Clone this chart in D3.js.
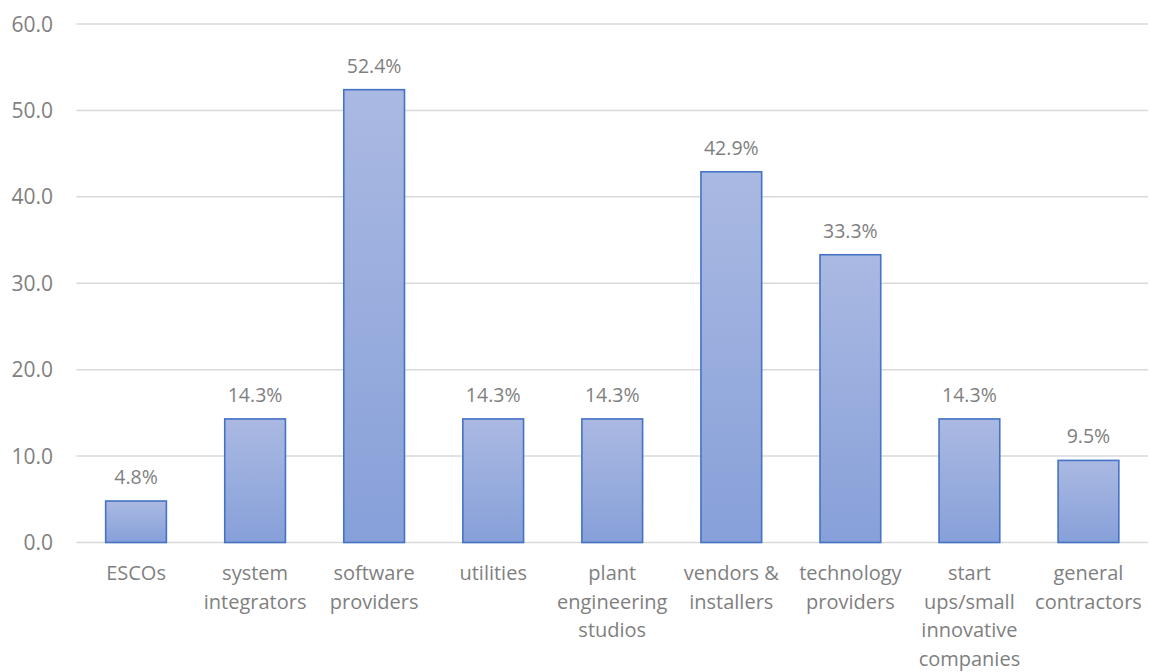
<!DOCTYPE html>
<html><head><meta charset="utf-8">
<script src="https://cdn.jsdelivr.net/npm/d3@7"></script>
<style>body{margin:0;background:#fff}svg{display:block}text{font-family:"Open Sans","Noto Sans",sans-serif;fill:#7f7f7f}</style>
</head><body>
<script>
const categories = [["ESCOs"],["system","integrators"],["software","providers"],["utilities"],["plant","engineering","studios"],["vendors &","installers"],["technology","providers"],["start","ups/small","innovative","companies"],["general","contractors"]];
const values = [4.8,14.3,52.4,14.3,14.3,42.9,33.3,14.3,9.5];
const yTicks = [0,10,20,30,40,50,60];

const W=1150,H=672;
const svg=d3.select("body").append("svg").attr("width",W).attr("height",H);
const defs=svg.append("defs");
const g=defs.append("linearGradient").attr("id","bg").attr("x1",0).attr("y1",0).attr("x2",0).attr("y2",1);
g.append("stop").attr("offset","0%").attr("stop-color","#aab9e2");
g.append("stop").attr("offset","100%").attr("stop-color","#87a0d9");

const x=d3.scaleBand().domain(d3.range(categories.length)).range([76.5,1148]).paddingInner(0.49).paddingOuter(0.245);
const y=d3.scaleLinear().domain([0,60]).range([542.5,24]);

svg.append("g").selectAll("line").data(yTicks).join("line")
 .attr("x1",76.5).attr("x2",1148).attr("y1",d=>y(d)).attr("y2",d=>y(d))
 .attr("stroke","#d9d9d9").attr("stroke-width",1.5);

svg.append("g").selectAll("text").data(yTicks).join("text")
 .attr("x",53).attr("y",d=>y(d)).attr("dy","0.36em").attr("text-anchor","end")
 .attr("font-size",21).text(d=>d.toFixed(1));

svg.append("g").selectAll("text").data(values).join("text")
 .attr("x",(d,i)=>x(i)+x.bandwidth()/2).attr("y",d=>y(d)-17)
 .attr("text-anchor","middle").attr("font-size",19.5).text(d=>d.toFixed(1)+"%");

svg.append("g").selectAll("rect").data(values).join("rect")
 .attr("x",(d,i)=>x(i)).attr("width",x.bandwidth())
 .attr("y",d=>y(d)).attr("height",d=>y(0)-y(d))
 .attr("fill","url(#bg)").attr("stroke","#4472c4").attr("stroke-width",1.6);

const lab=svg.append("g").selectAll("text").data(categories).join("text")
 .attr("text-anchor","middle").attr("font-size",20);
lab.each(function(lines,i){
  const t=d3.select(this);
  lines.forEach((s,j)=>t.append("tspan").attr("x",x(i)+x.bandwidth()/2).attr("y",580+j*28.7).text(s));
});
</script>
</body></html>
